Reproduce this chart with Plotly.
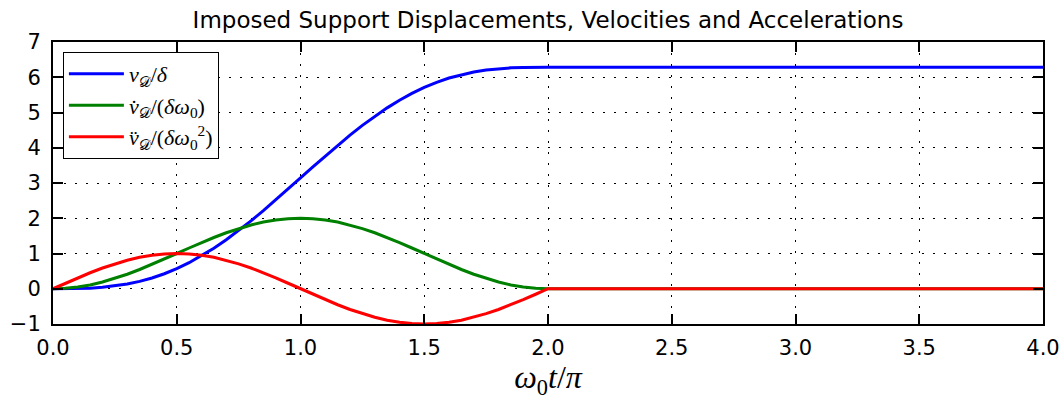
import plotly.graph_objects as go

# x = omega0 t / pi
x = [0.00, 0.05, 0.10, 0.15, 0.20, 0.25, 0.30, 0.35, 0.40, 0.45,
     0.50, 0.55, 0.60, 0.65, 0.70, 0.75, 0.80, 0.85, 0.90, 0.95,
     1.00, 1.05, 1.10, 1.15, 1.20, 1.25, 1.30, 1.35, 1.40, 1.45,
     1.50, 1.55, 1.60, 1.65, 1.70, 1.75, 1.80, 1.85, 1.90, 1.95,
     2.00, 4.00]

displacement = [0.000, 0.001, 0.005, 0.017, 0.041, 0.078, 0.133, 0.209, 0.306, 0.426,
                0.571, 0.740, 0.934, 1.151, 1.390, 1.649, 1.925, 2.216, 2.518, 2.828,
                3.142, 3.455, 3.765, 4.067, 4.358, 4.634, 4.893, 5.132, 5.349, 5.543,
                5.712, 5.857, 5.978, 6.075, 6.150, 6.205, 6.243, 6.266, 6.278, 6.283,
                6.283, 6.283]

velocity = [0.000, 0.012, 0.049, 0.109, 0.191, 0.293, 0.412, 0.546, 0.691, 0.844,
            1.000, 1.156, 1.309, 1.454, 1.588, 1.707, 1.809, 1.891, 1.951, 1.988,
            2.000, 1.988, 1.951, 1.891, 1.809, 1.707, 1.588, 1.454, 1.309, 1.156,
            1.000, 0.844, 0.691, 0.546, 0.412, 0.293, 0.191, 0.109, 0.049, 0.012,
            0.000, 0.000]

acceleration = [0.000, 0.156, 0.309, 0.454, 0.588, 0.707, 0.809, 0.891, 0.951, 0.988,
                1.000, 0.988, 0.951, 0.891, 0.809, 0.707, 0.588, 0.454, 0.309, 0.156,
                0.000, -0.156, -0.309, -0.454, -0.588, -0.707, -0.809, -0.891, -0.951, -0.988,
                -1.000, -0.988, -0.951, -0.891, -0.809, -0.707, -0.588, -0.454, -0.309, -0.156,
                0.000, 0.000]

names = [
    "<i>v</i><sub>𝒟</sub>/<i>δ</i>",
    "<i>v̇</i><sub>𝒟</sub>/(<i>δω</i><sub>0</sub>)",
    "<i>v̈</i><sub>𝒟</sub>/(<i>δω</i><sub>0</sub><sup>2</sup>)",
]
colors = ["#0000ff", "#008000", "#ff0000"]
series = [displacement, velocity, acceleration]

title_text = "Imposed Support Displacements, Velocities and Accelerations"
xlabel = "<i>ω</i><sub>0</sub><i>t</i>/<i>π</i>"
xticks = [0.0, 0.5, 1.0, 1.5, 2.0, 2.5, 3.0, 3.5, 4.0]
yticks = [-1, 0, 1, 2, 3, 4, 5, 6, 7]

fig = go.Figure()
for y, n, c in zip(series, names, colors):
    fig.add_trace(go.Scatter(x=x, y=y, mode="lines", name=n,
                             line=dict(color=c, width=3)))

axis_common = dict(
    showline=True, linecolor="black", linewidth=2, mirror="allticks",
    ticks="inside", ticklen=10, tickwidth=1.5, tickcolor="black",
    showgrid=True, gridcolor="black", gridwidth=1.2, griddash="2px,9px",
    zeroline=False, automargin=False,
    tickfont=dict(family="DejaVu Sans", size=21, color="black"),
)

fig.update_xaxes(range=[0, 4], tickvals=xticks, tickformat=".1f",
                 ticklabelstandoff=4,
                 title=dict(text=xlabel, font=dict(family="Liberation Serif", size=32, color="black"), standoff=10),
                 **axis_common)
fig.update_yaxes(range=[-1, 7], tickvals=yticks, ticklabelstandoff=6, **axis_common)

fig.update_layout(
    width=1060, height=400,
    margin=dict(l=53, r=17, t=42, b=76),
    paper_bgcolor="white", plot_bgcolor="white",
    title=dict(text=title_text, x=0.517, xanchor="center", y=0.95, yanchor="middle",
               font=dict(family="DejaVu Sans", size=23, color="black")),
    legend=dict(x=0.01, y=0.965, xanchor="left", yanchor="top",
                bgcolor="white", bordercolor="black", borderwidth=1,
                font=dict(family="Liberation Serif", size=22, color="black"),
                itemwidth=55, tracegroupgap=0),
    showlegend=True,
)

fig.write_html("out.html")
